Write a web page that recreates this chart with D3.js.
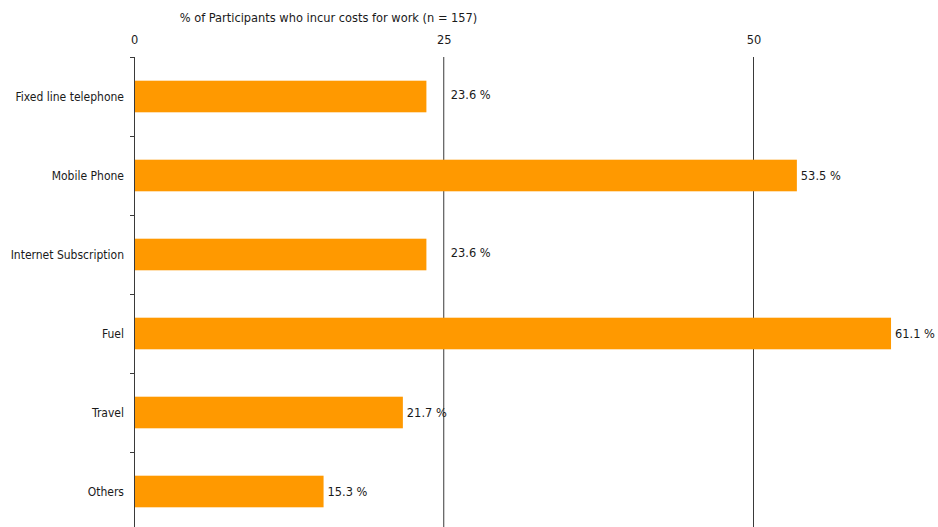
<!DOCTYPE html>
<html>
<head>
<meta charset="utf-8">
<script src="https://cdn.jsdelivr.net/npm/d3@7"></script>
<style>
  html, body { margin: 0; padding: 0; background: #fff; }
  svg { display: block; }
  text { font-family: "DejaVu Sans Condensed", "DejaVu Sans", sans-serif; fill: #1a1a1a; }
</style>
</head>
<body>
<svg id="chart" width="938" height="527"></svg>
<script>
// Share of participants reporting each kind of work-related cost
const categories = ["Fixed line telephone", "Mobile Phone", "Internet Subscription", "Fuel", "Travel", "Others"];
const values = [23.6, 53.5, 23.6, 61.1, 21.7, 15.3];
const tickValues = [0, 25, 50];
const axisTitle = "% of Participants who incur costs for work (n = 157)";

const svg = d3.select("#chart");
const margin = { top: 57, left: 134 };
const fontSize = 12.7;
const categoryFontSize = 12;

const x = d3.scaleLinear().domain([0, 50]).range([margin.left, 753.5]);
const y = d3.scaleBand().domain(categories).range([margin.top, margin.top + 79 * categories.length]).paddingInner(0.6).paddingOuter(0.3);
const band = d3.scaleBand().domain(categories).range(y.range());
const chartBottom = 527;

// Vertical gridlines at the non-zero ticks
svg.append("g")
  .selectAll("line")
  .data(tickValues.filter(d => d > 0))
  .join("line")
  .attr("x1", d => x(d)).attr("x2", d => x(d))
  .attr("y1", margin.top).attr("y2", chartBottom)
  .attr("stroke", "#3a3a3a").attr("stroke-width", 1);

// Top axis: tick labels only
svg.append("g")
  .attr("transform", `translate(0,${margin.top - 13})`)
  .call(d3.axisTop(x).tickValues(tickValues).tickSize(0).tickPadding(0))
  .call(g => g.select(".domain").remove())
  .call(g => g.selectAll("text").attr("font-size", fontSize).attr("fill", "#1a1a1a")
    .attr("font-family", "'DejaVu Sans Condensed', 'DejaVu Sans', sans-serif"));

// Axis title
svg.append("text")
  .attr("x", 328.5).attr("y", 22)
  .attr("text-anchor", "middle")
  .attr("font-size", fontSize)
  .text(axisTitle);

// Bars
svg.append("g")
  .selectAll("rect")
  .data(values)
  .join("rect")
  .attr("x", x(0))
  .attr("y", (d, i) => y(categories[i]))
  .attr("width", d => x(d) - x(0))
  .attr("height", y.bandwidth())
  .attr("fill", "#FF9900");

// Left axis line with ticks at the band boundaries
const leftAxis = svg.append("g");
leftAxis.append("line")
  .attr("x1", x(0) + 0.5).attr("x2", x(0) + 0.5)
  .attr("y1", margin.top).attr("y2", chartBottom)
  .attr("stroke", "#3a3a3a");
leftAxis.selectAll("line.tick")
  .data(categories)
  .join("line")
  .attr("class", "tick")
  .attr("x1", x(0) - 4).attr("x2", x(0) + 0.5)
  .attr("y1", d => band(d) + 0.5).attr("y2", d => band(d) + 0.5)
  .attr("stroke", "#3a3a3a");

// Category labels
svg.append("g")
  .selectAll("text")
  .data(categories)
  .join("text")
  .attr("x", x(0) - 10)
  .attr("y", d => y(d) + y.bandwidth() / 2)
  .attr("dy", "0.35em")
  .attr("text-anchor", "end")
  .attr("font-size", categoryFontSize)
  .text(d => d);

// Value labels, nudged past a gridline when they would start just before it
const grids = tickValues.filter(d => d > 0).map(d => x(d));
function labelPos(v) {
  let lx = x(v) + 4, shift = 0;
  for (const g of grids) {
    if (lx < g && g - lx < 20) { lx = g + 7; shift = -2; }
  }
  return { lx, shift };
}
svg.append("g")
  .selectAll("text")
  .data(values)
  .join("text")
  .attr("x", d => labelPos(d).lx)
  .attr("y", (d, i) => y(categories[i]) + y.bandwidth() / 2 + labelPos(d).shift)
  .attr("dy", "0.35em")
  .attr("font-size", fontSize)
  .text(d => d.toFixed(1) + " %");
</script>
</body>
</html>
